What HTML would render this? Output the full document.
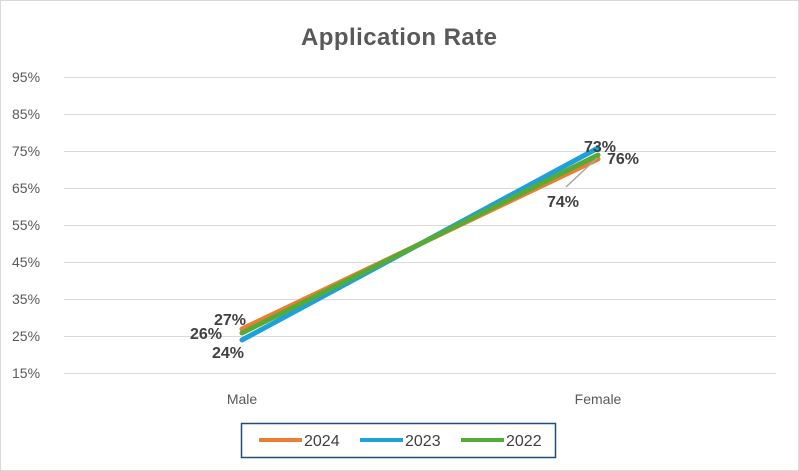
<!DOCTYPE html>
<html><head><style>
body{margin:0;background:#fff}
svg{display:block;font-family:"Liberation Sans",sans-serif}
</style></head><body>
<svg width="799" height="471" viewBox="0 0 799 471">
<rect x="0.5" y="0.5" width="798" height="470" fill="#fff" stroke="#d9d9d9"/>
<text x="399" y="45" text-anchor="middle" font-size="24" font-weight="bold" fill="#595959" textLength="196">Application Rate</text>
<g stroke="#d9d9d9" stroke-width="1">
<line x1="64" x2="776" y1="77.5" y2="77.5"/><line x1="64" x2="776" y1="114.5" y2="114.5"/>
<line x1="64" x2="776" y1="151.5" y2="151.5"/><line x1="64" x2="776" y1="188.5" y2="188.5"/>
<line x1="64" x2="776" y1="225.5" y2="225.5"/><line x1="64" x2="776" y1="262.5" y2="262.5"/>
<line x1="64" x2="776" y1="299.5" y2="299.5"/><line x1="64" x2="776" y1="336.5" y2="336.5"/>
<line x1="64" x2="776" y1="373.5" y2="373.5"/>
</g>
<g font-size="14" fill="#595959">
<text x="12" y="82">95%</text><text x="12" y="119">85%</text><text x="12" y="156">75%</text>
<text x="12" y="193">65%</text><text x="12" y="230">55%</text><text x="12" y="267">45%</text>
<text x="12" y="304">35%</text><text x="12" y="341">25%</text><text x="12" y="378">15%</text>
<text x="242" y="404" text-anchor="middle">Male</text><text x="598" y="404" text-anchor="middle">Female</text>
</g>
<g stroke-width="5" stroke-linecap="round">
<line x1="242" y1="329" x2="598" y2="159" stroke="#ed7d31"/>
<line x1="242" y1="340" x2="598" y2="148" stroke="#1ea0d8"/>
<line x1="242" y1="333" x2="598" y2="155" stroke="#56aa36"/>
</g>
<line x1="566" y1="187" x2="597" y2="158" stroke="#a6a6a6" stroke-width="1.5"/>
<g font-size="16" font-weight="bold" fill="#404040">
<text x="214" y="325">27%</text><text x="190" y="339">26%</text><text x="212" y="358">24%</text>
<text x="584" y="152">73%</text><text x="607" y="164">76%</text><text x="547" y="207">74%</text>
</g>
<rect x="241.5" y="423.5" width="314" height="34" fill="#fff" stroke="#1f4e79" stroke-width="1.5"/>
<g stroke-width="4">
<line x1="259" x2="302" y1="440" y2="440" stroke="#ed7d31"/>
<line x1="360" x2="403" y1="440" y2="440" stroke="#1ea0d8"/>
<line x1="461" x2="504" y1="440" y2="440" stroke="#56aa36"/>
</g>
<g font-size="16" fill="#404040">
<text x="304" y="446">2024</text><text x="405" y="446">2023</text><text x="506" y="446">2022</text>
</g>
</svg>
</body></html>
